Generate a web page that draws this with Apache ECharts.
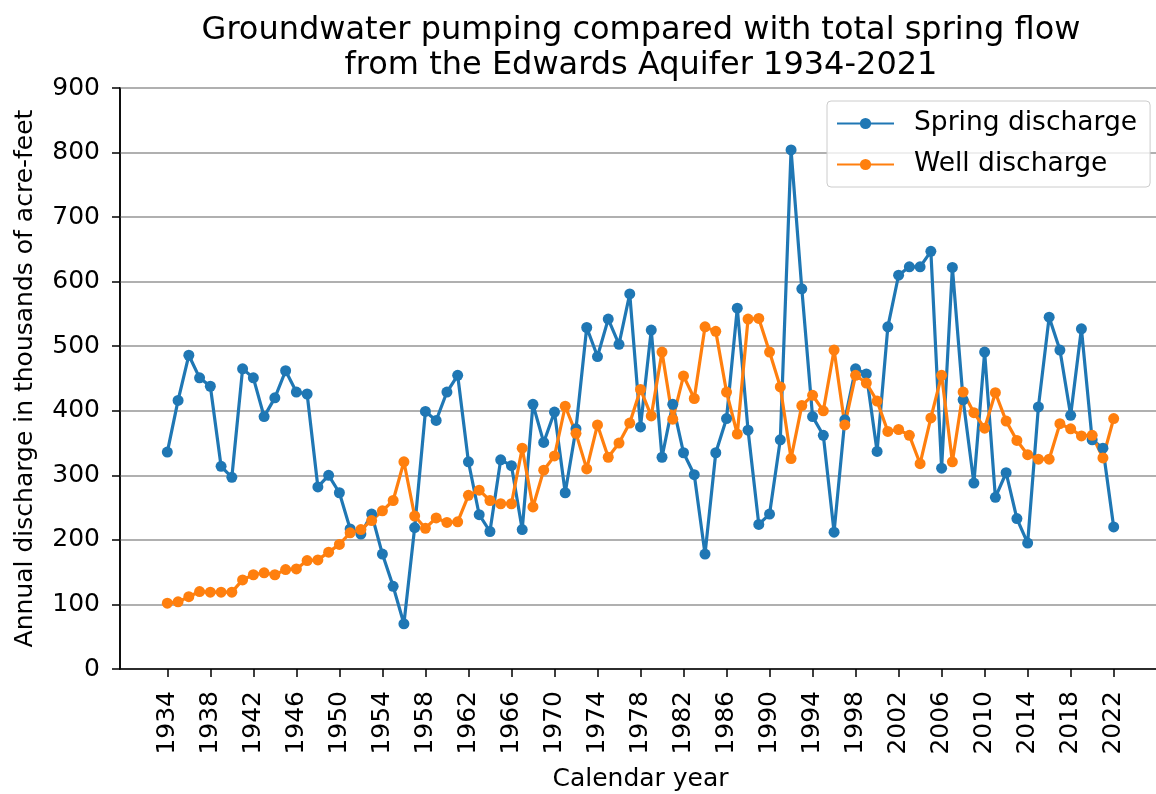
<!DOCTYPE html>
<html>
<head>
<meta charset="utf-8">
<script src="https://cdn.jsdelivr.net/npm/echarts@6/dist/echarts.min.js"></script>
<style>
html, body { margin: 0; padding: 0; background: #fff; overflow: hidden; }
#chart { width: 1156px; height: 794px; }
</style>
</head>
<body>
<div id="chart"></div>
<script>
// calendar years of the records
var years = [1934, 1935, 1936, 1937, 1938, 1939, 1940, 1941, 1942, 1943,
    1944, 1945, 1946, 1947, 1948, 1949, 1950, 1951, 1952, 1953,
    1954, 1955, 1956, 1957, 1958, 1959, 1960, 1961, 1962, 1963,
    1964, 1965, 1966, 1967, 1968, 1969, 1970, 1971, 1972, 1973,
    1974, 1975, 1976, 1977, 1978, 1979, 1980, 1981, 1982, 1983,
    1984, 1985, 1986, 1987, 1988, 1989, 1990, 1991, 1992, 1993,
    1994, 1995, 1996, 1997, 1998, 1999, 2000, 2001, 2002, 2003,
    2004, 2005, 2006, 2007, 2008, 2009, 2010, 2011, 2012, 2013,
    2014, 2015, 2016, 2017, 2018, 2019, 2020, 2021, 2022];

// thousands of acre-feet
var springDischarge = [336, 416, 486, 451, 438, 314, 297, 465, 451, 391,
    420, 462, 429, 426, 282, 300, 273, 217, 209, 240,
    178, 128, 70, 219, 399, 385, 429, 455, 321, 239,
    213, 324, 315, 216, 410, 351, 398, 273, 372, 529,
    484, 542, 503, 581, 375, 525, 328, 410, 335, 301,
    178, 335, 388, 559, 370, 224, 240, 355, 804, 589,
    391, 362, 212, 386, 465, 457, 337, 530, 610, 623,
    623, 647, 311, 622, 417, 288, 491, 266, 304, 233,
    195, 406, 545, 494, 393, 527, 355, 342, 220];

var wellDischarge = [102, 104, 112, 120, 119, 119, 119, 138, 146, 149,
    146, 154, 155, 168, 169, 181, 193, 211, 216, 230,
    245, 261, 321, 237, 218, 234, 227, 228, 269, 277,
    261, 256, 256, 342, 251, 308, 330, 407, 365, 310,
    378, 328, 350, 381, 433, 392, 491, 387, 454, 419,
    530, 523, 429, 364, 542, 543, 491, 437, 326, 408,
    424, 400, 494, 378, 455, 443, 415, 368, 371, 362,
    318, 389, 455, 321, 429, 397, 373, 428, 384, 354,
    332, 325, 325, 380, 372, 361, 362, 327, 388];

var yearTicks = [1934, 1938, 1942, 1946, 1950, 1954, 1958, 1962, 1966, 1970,
    1974, 1978, 1982, 1986, 1990, 1994, 1998, 2002, 2006, 2010,
    2014, 2018, 2022];

var font = 'DejaVu Sans';

function pairs(vals) {
    return years.map(function (y, i) { return [y, vals[i]]; });
}

var myChart = echarts.init(document.getElementById('chart'));
var option = {
    animation: false,
    backgroundColor: '#fff',
    textStyle: { fontFamily: font },
    title: {
        text: 'Groundwater pumping compared with total spring flow\nfrom the Edwards Aquifer 1934-2021',
        left: 636,
        top: 8,
        textAlign: 'center',
        textStyle: {
            fontFamily: font,
            fontSize: 32,
            fontWeight: 'normal',
            color: '#000',
            lineHeight: 35
        }
    },
    legend: {
        orient: 'vertical',
        left: 827,
        top: 101,
        padding: [9, 13, 9, 9],
        itemWidth: 57,
        itemHeight: 14,
        itemGap: 14,
        backgroundColor: 'rgba(255,255,255,0.8)',
        borderColor: '#cccccc',
        borderWidth: 1,
        borderRadius: 4,
        textStyle: {
            fontFamily: font,
            fontSize: 26.5,
            lineHeight: 27,
            color: '#000',
            padding: [0, 0, 0, 15]
        },
        data: ['Spring discharge', 'Well discharge']
    },
    grid: {
        left: 120,
        width: 1041,
        top: 88,
        bottom: 125,
        outerBoundsMode: 'none',
        containLabel: false,
        show: true,
        borderColor: '#000',
        borderWidth: 1.5
    },
    xAxis: {
        type: 'value',
        min: 1929.6,
        max: 2026.4,
        name: 'Calendar year',
        nameLocation: 'middle',
        nameGap: 98,
        nameTextStyle: { fontFamily: font, fontSize: 25, color: '#000' },
        axisLine: { show: true, onZero: false, lineStyle: { color: '#000', width: 1.5 } },
        axisTick: { show: true, length: 8, customValues: yearTicks, lineStyle: { color: '#000', width: 1.5 } },
        axisLabel: {
            customValues: yearTicks,
            rotate: 90,
            margin: 22,
            fontFamily: font,
            fontSize: 25,
            color: '#000',
            formatter: function (v) { return String(v); }
        },
        splitLine: { show: false }
    },
    yAxis: {
        type: 'value',
        min: 0,
        max: 900,
        interval: 100,
        name: 'Annual discharge in thousands of acre-feet',
        nameLocation: 'middle',
        nameGap: 82,
        nameTextStyle: { fontFamily: font, fontSize: 25, color: '#000' },
        axisLine: { show: true, lineStyle: { color: '#000', width: 1.5 } },
        axisTick: { show: true, length: 8, lineStyle: { color: '#000', width: 1.5 } },
        axisLabel: { margin: 20, fontFamily: font, fontSize: 25, color: '#000' },
        splitLine: { show: true, lineStyle: { color: '#b0b0b0', width: 2 } }
    },
    series: [
        {
            name: 'Spring discharge',
            type: 'line',
            data: pairs(springDischarge),
            symbol: 'circle',
            symbolSize: 11,
            color: '#1f77b4',
            lineStyle: { width: 3.2, color: '#1f77b4' },
            itemStyle: { color: '#1f77b4' }
        },
        {
            name: 'Well discharge',
            type: 'line',
            data: pairs(wellDischarge),
            symbol: 'circle',
            symbolSize: 11,
            color: '#ff7f0e',
            lineStyle: { width: 3.2, color: '#ff7f0e' },
            itemStyle: { color: '#ff7f0e' }
        }
    ]
};
myChart.setOption(option);
</script>
</body>
</html>
